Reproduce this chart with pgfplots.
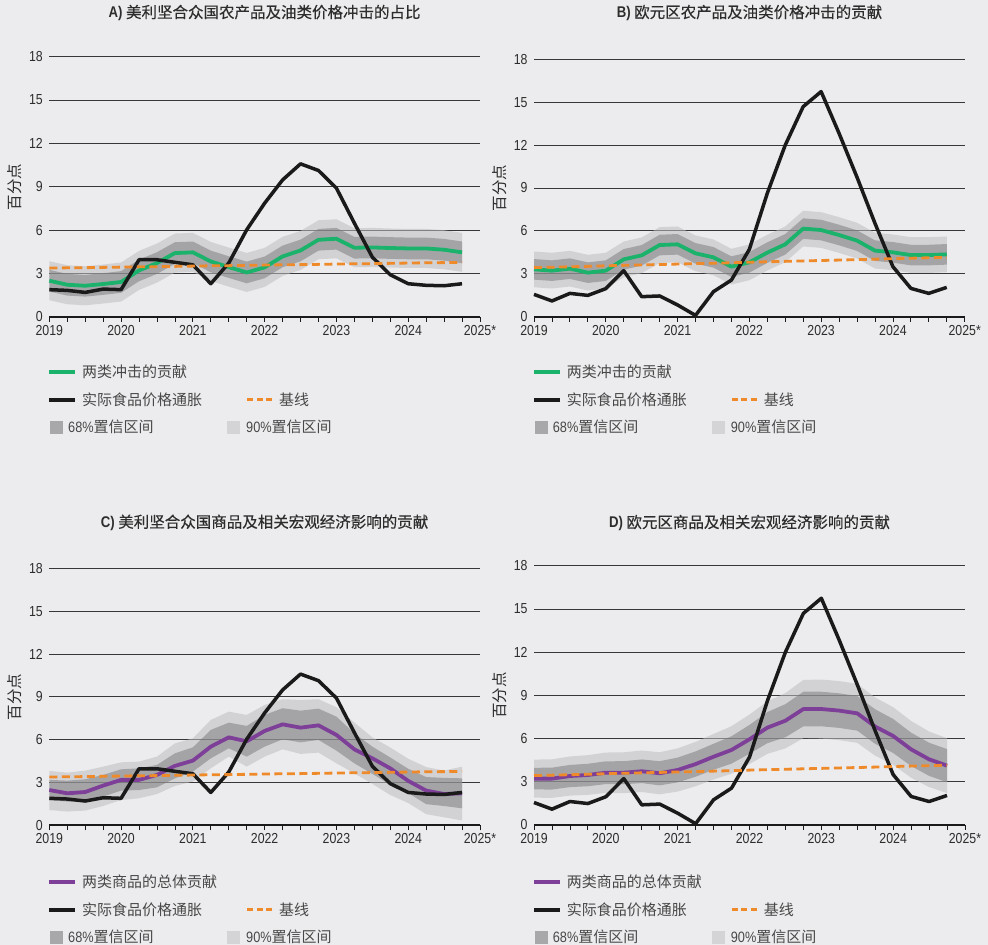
\documentclass[border=0pt]{standalone}
\usepackage{pgfplots}
\pgfplotsset{compat=1.18}
\usepackage{pgfplotstable}
\usepgfplotslibrary{fillbetween}
\usepackage{fontspec}
\setmainfont{Noto Sans CJK SC}
\newfontfamily\cjkt[FakeBold=0.3]{Noto Sans CJK SC}
\newfontfamily\cond[FakeStretch=0.85]{Liberation Sans}

\definecolor{bgc}{RGB}{236,236,238}
\definecolor{gridc}{RGB}{55,55,55}
\definecolor{labc}{RGB}{45,45,45}
\definecolor{legc}{RGB}{72,72,72}
\definecolor{grn}{RGB}{27,178,108}
\definecolor{prp}{RGB}{126,63,152}
\definecolor{org}{RGB}{238,138,42}
\definecolor{blk}{RGB}{26,26,26}
\definecolor{b90}{RGB}{190,190,192}
\definecolor{b68}{RGB}{120,120,124}
\definecolor{sq90}{RGB}{212,212,214}
\definecolor{sq68}{RGB}{168,168,171}
\pagecolor{bgc}

\pgfplotstableread{
x act mid base lo90 lo68 hi68 hi90
2019.00 1.89 2.51 3.38 1.16 1.76 3.26 3.86
2019.25 1.84 2.23 3.40 0.88 1.48 2.98 3.58
2019.50 1.70 2.16 3.41 0.81 1.41 2.91 3.51
2019.75 1.93 2.28 3.43 0.93 1.53 3.03 3.63
2020.00 1.89 2.42 3.45 1.07 1.67 3.17 3.77
2020.25 3.96 3.22 3.47 1.87 2.47 3.97 4.57
2020.50 3.96 3.73 3.48 2.38 2.98 4.48 5.08
2020.75 3.78 4.42 3.50 3.07 3.67 5.17 5.77
2021.00 3.61 4.47 3.52 3.12 3.72 5.22 5.82
2021.25 2.30 3.84 3.54 2.49 3.09 4.59 5.19
2021.50 3.73 3.45 3.55 2.10 2.70 4.20 4.80
2021.75 6.03 3.08 3.57 1.73 2.33 3.83 4.43
2022.00 7.87 3.43 3.59 2.08 2.68 4.18 4.78
2022.25 9.48 4.19 3.61 2.84 3.44 4.94 5.54
2022.50 10.59 4.60 3.62 3.25 3.85 5.35 5.95
2022.75 10.13 5.34 3.64 3.99 4.59 6.09 6.69
2023.00 8.91 5.41 3.66 4.06 4.66 6.16 6.76
2023.25 6.49 4.79 3.68 3.44 4.04 5.54 6.14
2023.50 4.14 4.81 3.69 3.46 4.06 5.56 6.16
2023.75 2.92 4.77 3.71 3.42 4.02 5.52 6.12
2024.00 2.30 4.74 3.73 3.39 3.99 5.49 6.09
2024.25 2.19 4.74 3.75 3.39 3.99 5.49 6.09
2024.50 2.16 4.65 3.76 3.30 3.90 5.40 6.00
2024.75 2.30 4.47 3.78 3.12 3.72 5.22 5.82
}\tA

\pgfplotstableread{
x act mid base lo90 lo68 hi68 hi90
2019.00 1.56 3.31 3.43 2.06 2.59 4.03 4.56
2019.25 1.10 3.22 3.46 1.97 2.50 3.94 4.47
2019.50 1.63 3.36 3.49 2.11 2.64 4.08 4.61
2019.75 1.49 3.08 3.52 1.83 2.36 3.80 4.33
2020.00 1.96 3.22 3.56 1.97 2.50 3.94 4.47
2020.25 3.22 4.01 3.59 2.76 3.29 4.73 5.26
2020.50 1.40 4.29 3.62 3.04 3.57 5.01 5.54
2020.75 1.45 5.01 3.65 3.76 4.29 5.73 6.26
2021.00 0.82 5.06 3.68 3.81 4.34 5.78 6.31
2021.25 0.09 4.43 3.71 3.18 3.71 5.15 5.68
2021.50 1.75 4.15 3.74 2.90 3.43 4.87 5.40
2021.75 2.56 3.50 3.77 2.25 2.78 4.22 4.75
2022.00 4.71 3.80 3.81 2.55 3.08 4.52 5.05
2022.25 8.63 4.48 3.84 3.23 3.76 5.20 5.73
2022.50 12.00 5.06 3.87 3.81 4.34 5.78 6.31
2022.75 14.69 6.16 3.90 4.91 5.44 6.88 7.41
2023.00 15.74 6.06 3.93 4.81 5.34 6.78 7.31
2023.25 12.82 5.71 3.96 4.46 4.99 6.43 6.96
2023.50 9.75 5.32 3.99 4.07 4.60 6.04 6.57
2023.75 6.53 4.62 4.02 3.37 3.90 5.34 5.87
2024.00 3.50 4.50 4.06 3.25 3.78 5.22 5.75
2024.25 1.98 4.31 4.09 3.06 3.59 5.03 5.56
2024.50 1.63 4.31 4.12 3.06 3.59 5.03 5.56
2024.75 2.05 4.36 4.15 3.11 3.64 5.08 5.61
}\tB

\pgfplotstableread{
x act mid base lo90 lo68 hi68 hi90
2019.00 1.89 2.47 3.38 1.07 1.77 3.18 3.81
2019.25 1.84 2.24 3.40 0.96 1.66 3.13 3.69
2019.50 1.70 2.33 3.41 1.03 1.66 3.22 3.83
2019.75 1.93 2.78 3.43 1.35 2.01 3.53 4.11
2020.00 1.89 3.18 3.45 1.77 2.43 3.92 4.41
2020.25 3.96 3.18 3.47 1.89 2.47 3.99 4.46
2020.50 3.96 3.53 3.48 2.19 2.66 4.23 4.81
2020.75 3.78 4.16 3.50 2.76 3.29 5.04 5.74
2021.00 3.61 4.53 3.52 3.06 3.76 5.46 6.09
2021.25 2.30 5.51 3.54 3.99 4.69 6.68 7.38
2021.50 3.73 6.16 3.55 4.81 5.39 7.19 7.96
2021.75 6.03 5.88 3.57 4.11 4.81 6.96 7.73
2022.00 7.87 6.61 3.59 4.81 5.51 7.73 8.43
2022.25 9.48 7.07 3.61 5.32 6.02 8.20 8.83
2022.50 10.59 6.84 3.62 5.00 5.81 8.03 8.78
2022.75 10.13 7.00 3.64 5.09 5.98 8.17 8.83
2023.00 8.91 6.33 3.66 4.34 5.23 7.61 8.27
2023.25 6.49 5.32 3.68 3.64 4.34 6.44 7.19
2023.50 4.14 4.69 3.69 2.90 3.60 5.51 6.16
2023.75 2.92 3.99 3.71 2.12 2.85 4.75 5.45
2024.00 2.30 3.11 3.73 1.56 2.26 3.96 4.66
2024.25 2.19 2.43 3.75 0.78 1.48 3.38 4.08
2024.50 2.16 2.19 3.76 0.56 1.35 3.32 3.83
2024.75 2.30 2.24 3.78 0.34 1.19 3.29 4.11
}\tC

\pgfplotstableread{
x act mid base lo90 lo68 hi68 hi90
2019.00 1.56 3.22 3.43 1.90 2.47 3.97 4.54
2019.25 1.10 3.22 3.46 1.88 2.46 3.98 4.56
2019.50 1.63 3.40 3.49 2.04 2.63 4.17 4.76
2019.75 1.49 3.47 3.52 2.09 2.69 4.25 4.85
2020.00 1.96 3.63 3.56 2.23 2.84 4.42 5.03
2020.25 3.22 3.63 3.59 2.21 2.83 4.43 5.05
2020.50 1.40 3.73 3.62 2.29 2.91 4.55 5.17
2020.75 1.45 3.59 3.65 2.13 2.75 4.43 5.05
2021.00 0.82 3.82 3.68 2.32 2.96 4.68 5.32
2021.25 0.09 4.23 3.71 2.69 3.35 5.11 5.77
2021.50 1.75 4.74 3.74 3.16 3.84 5.64 6.32
2021.75 2.56 5.21 3.77 3.56 4.26 6.16 6.86
2022.00 4.71 5.95 3.81 4.23 4.95 6.95 7.67
2022.25 8.63 6.76 3.84 4.94 5.68 7.84 8.58
2022.50 12.00 7.24 3.87 5.32 6.09 8.39 9.16
2022.75 14.69 8.05 3.90 6.03 6.85 9.25 10.07
2023.00 15.74 8.05 3.93 6.00 6.85 9.25 10.10
2023.25 12.82 7.94 3.96 5.89 6.74 9.14 9.99
2023.50 9.75 7.75 3.99 5.70 6.55 8.95 9.80
2023.75 6.53 6.83 4.02 4.81 5.63 8.03 8.85
2024.00 3.50 6.18 4.06 4.18 5.00 7.36 8.18
2024.25 1.98 5.25 4.09 3.28 4.09 6.41 7.22
2024.50 1.63 4.56 4.12 2.63 3.41 5.71 6.49
2024.75 2.05 4.12 4.15 2.22 2.97 5.27 6.02
}\tD

\newcommand{\panel}[6]{%
\begin{axis}[
  at={(#1pt,#2pt)}, anchor=south west, scale only axis,
  width=#3pt, height=#4pt,
  xmin=2019, xmax=2025, ymin=0, ymax=18,
  axis x line*=bottom, axis y line*=left,
  y axis line style={draw=none},
  x axis line style={line width=1.8pt, blk},
  xtick={2019,2020,2021,2022,2023,2024,2025},
  xticklabels={2019,2020,2021,2022,2023,2024,2025*},
  minor x tick num=3,
  tick align=outside,
  major tick length=5pt, minor tick length=5pt,
  xtick style={blk, line width=0.8pt},
  ytick={0,3,6,9,12,15,18}, yticklabels={0,3,6,9,12,15,18},
  ytick style={draw=none},
  yticklabel style={xshift=2pt},
  ymajorgrids, grid style={line width=0.8pt, gridc},
  tick label style={font=\cond\fontsize{14.5}{14.5}\selectfont, text=labc},
  clip=false,
]
\addplot[name path=l90, draw=none] table[x=x,y=lo90] {#5};
\addplot[name path=h90, draw=none] table[x=x,y=hi90] {#5};
\addplot[fill=b90, fill opacity=0.55, draw=none] fill between[of=l90 and h90];
\addplot[name path=l68, draw=none] table[x=x,y=lo68] {#5};
\addplot[name path=h68, draw=none] table[x=x,y=hi68] {#5};
\addplot[fill=b68, fill opacity=0.5, draw=none] fill between[of=l68 and h68];
\addplot[#6, line width=3.8pt, line join=round] table[x=x,y=mid] {#5};
\addplot[blk, line width=3.5pt, line join=round] table[x=x,y=act] {#5};
\addplot[org, line width=2.8pt, dash pattern=on 8pt off 4.5pt] table[x=x,y=base] {#5};
\end{axis}}

\newcommand{\mylegend}[4]{%
\begin{scope}[shift={(#1pt,#2pt)}, every node/.style={anchor=west, inner sep=0pt, text=legc, font=\fontsize{15}{15}\selectfont}]
 \draw[#3, line width=4pt] (49.3pt,0pt) -- (75pt,0pt);
 \node at (82pt,0pt) {#4};
 \draw[blk, line width=4pt] (49.3pt,-27.5pt) -- (75pt,-27.5pt);
 \node at (82pt,-27.5pt) {实际食品价格通胀};
 \draw[org, line width=3pt, dash pattern=on 6pt off 3.5pt] (247pt,-27.5pt) -- (272pt,-27.5pt);
 \node at (279pt,-27.5pt) {基线};
 \fill[sq68] (50pt,-61.3pt) rectangle (63pt,-48.3pt);
 \node at (68pt,-54.8pt) {{\cond 68\%}置信区间};
 \fill[sq90] (227pt,-61.3pt) rectangle (240pt,-48.3pt);
 \node at (246pt,-54.8pt) {{\cond 90\%}置信区间};
\end{scope}}

\begin{document}
\begin{tikzpicture}
\path (0pt,0pt) rectangle (988pt,945pt);

\panel{49.3}{628}{430.7}{260.3}{\tA}{grn}
\panel{534}{628.3}{430.7}{257.4}{\tB}{grn}
\panel{49.3}{119.7}{430.7}{257}{\tC}{prp}
\panel{534}{120}{431}{259.3}{\tD}{prp}

\begin{scope}[every node/.style={text=labc, font=\fontsize{15.5}{15.5}\selectfont}]
\node at (264.6pt,932pt) {{\cond\bfseries A)} {\cjkt 美利坚合众国农产品及油类价格冲击的占比}};
\node at (749.5pt,932pt) {{\cond\bfseries B)} {\cjkt 欧元区农产品及油类价格冲击的贡献}};
\node at (264.6pt,422.3pt) {{\cond\bfseries C)} {\cjkt 美利坚合众国商品及相关宏观经济影响的贡献}};
\node at (749.5pt,422pt) {{\cond\bfseries D)} {\cjkt 欧元区商品及相关宏观经济影响的贡献}};
\node[rotate=90] at (14.5pt,758pt) {百分点};
\node[rotate=90] at (499.2pt,757pt) {百分点};
\node[rotate=90] at (14.5pt,248.2pt) {百分点};
\node[rotate=90] at (499.2pt,249.6pt) {百分点};
\end{scope}

\mylegend{0}{572.7}{grn}{两类冲击的贡献}
\mylegend{484.7}{572.7}{grn}{两类冲击的贡献}
\mylegend{0}{62.7}{prp}{两类商品的总体贡献}
\mylegend{484.7}{62.7}{prp}{两类商品的总体贡献}

\pgfresetboundingbox
\useasboundingbox (0pt,0pt) rectangle (988pt,945pt);
\end{tikzpicture}
\end{document}
